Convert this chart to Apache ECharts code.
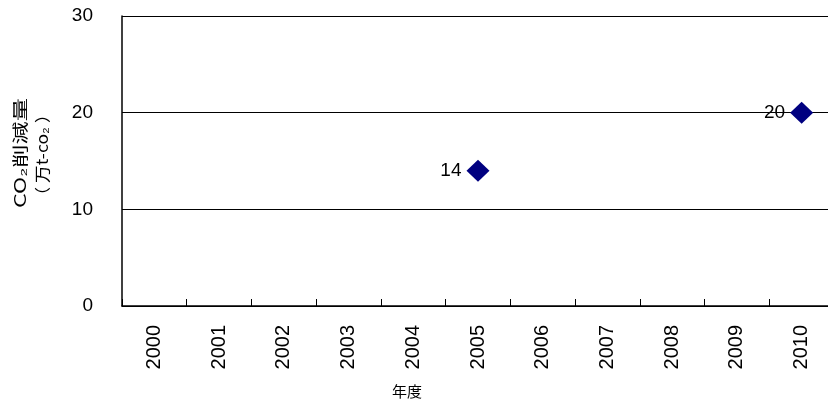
<!DOCTYPE html>
<html>
<head>
<meta charset="utf-8">
<script src="https://cdn.jsdelivr.net/npm/echarts@6/dist/echarts.min.js"></script>
<style>
  html, body { margin: 0; padding: 0; background: #fff; overflow: hidden; }
  #chart { width: 834px; height: 402px; }
</style>
</head>
<body>
<div id="chart"></div>
<script>
  // 年度
  var years = ['2000', '2001', '2002', '2003', '2004', '2005', '2006', '2007', '2008', '2009', '2010'];
  // CO2削減量（万t-co2）
  var reduction = ['-', '-', '-', '-', '-', 14, '-', '-', '-', '-', 20];
  var yTicks = [0, 10, 20, 30];

  var font = 'Liberation Sans, Arial, sans-serif';
  var cjk = 'Noto Sans CJK JP, sans-serif';
  var myChart = echarts.init(document.getElementById('chart'));

  myChart.setOption({
    backgroundColor: '#fff',
    animation: false,
    grid: {
      left: 122,
      top: 16,
      right: 0,
      bottom: 96
    },
    xAxis: {
      type: 'category',
      data: years,
      boundaryGap: true,
      axisLine: { lineStyle: { color: '#000', width: 1.5 } },
      axisTick: { show: true, inside: true, length: 7, lineStyle: { color: '#000' } },
      axisLabel: {
        rotate: 90,
        margin: 19,
        color: '#000',
        fontSize: 20,
        fontFamily: font
      }
    },
    yAxis: {
      type: 'value',
      min: yTicks[0],
      max: yTicks[yTicks.length - 1],
      interval: 10,
      axisLine: { show: true, lineStyle: { color: '#000', width: 1.5 } },
      axisTick: { show: false },
      axisLabel: {
        margin: 29,
        color: '#000',
        fontSize: 19,
        fontFamily: font
      },
      splitLine: { lineStyle: { color: '#000', width: 1 } }
    },
    graphic: [
      {
        type: 'text',
        x: 20, y: 153,
        rotation: Math.PI / 2,
        scaleX: 1.45,
        style: {
          text: 'CO₂削減量',
          fontSize: 16,
          fontFamily: cjk,
          fill: '#000',
          align: 'center',
          verticalAlign: 'middle'
        }
      },
      {
        type: 'text',
        x: 42, y: 155,
        rotation: Math.PI / 2,
        scaleX: 1.1,
        style: {
          text: '（ 万t-co₂ ）',
          fontSize: 16,
          fontFamily: cjk,
          fill: '#000',
          align: 'center',
          verticalAlign: 'middle'
        }
      },
      {
        type: 'text',
        x: 407, y: 391,
        style: {
          text: '年度',
          fontSize: 15,
          fontFamily: cjk,
          fill: '#000',
          align: 'center',
          verticalAlign: 'middle'
        }
      }
    ],
    series: [
      {
        name: 'CO2削減量',
        type: 'scatter',
        data: reduction,
        symbol: 'diamond',
        symbolSize: [23, 22],
        itemStyle: { color: '#000080', opacity: 1 },
        label: {
          show: true,
          position: 'left',
          distance: 5,
          color: '#000',
          fontSize: 19,
          fontFamily: font
        }
      }
    ]
  });
</script>
</body>
</html>
